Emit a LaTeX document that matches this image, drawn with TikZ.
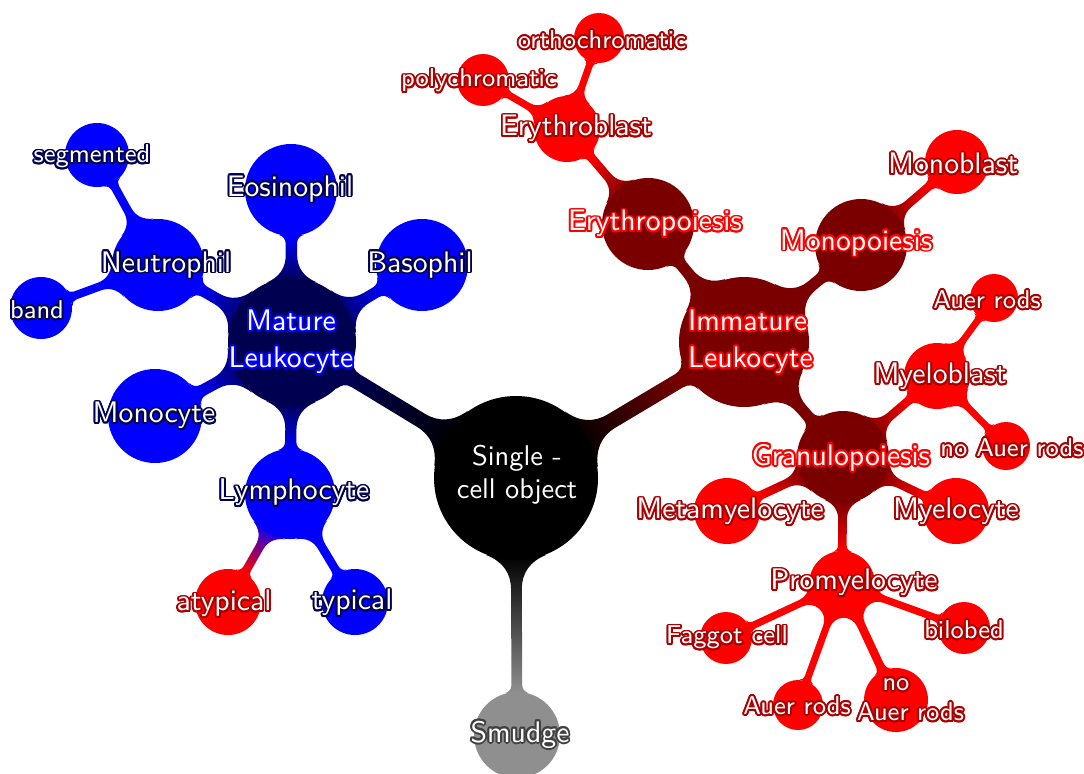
\documentclass[tikz,border=0pt]{standalone}
\usepackage[copies]{contour}
\usetikzlibrary{backgrounds}
\contourlength{0.65pt}
\definecolor{navy}{RGB}{0,0,80}
\definecolor{maroon}{RGB}{122,0,0}
\definecolor{dred}{RGB}{170,0,0}
\definecolor{smudgec}{RGB}{143,143,143}
\definecolor{dgray}{RGB}{64,64,64}
\tikzset{
  cc/.style n args={2}{circle, inner sep=0pt, fill=#1, draw=none, minimum size=#2*0.69pt},
  tx/.style={text=white, align=center, inner sep=0pt, yshift=-0.9pt},
  bigf/.style={tx, font=\sffamily\fontsize{10.25}{12.8}\selectfont},
  smallf/.style={tx, font=\sffamily\fontsize{8.9}{10.5}\selectfont},
  rootf/.style={tx, font=\sffamily\fontsize{9.8}{11.4}\selectfont},
}
\newcommand\ctN[1]{\contour{navy}{#1}}
\newcommand\ctD[1]{\contour{dred}{#1}}
\newcommand\ctR[1]{\contour{red}{#1}}
\newcommand\ctB[1]{\contour{blue}{#1}}
% local point (X along axis, Y across) -> named coordinate
\newcommand\cbset[3]{%
  \pgfmathsetmacro\cbtx{\cbAx+(#2)*\cbux-(#3)*\cbuy}%
  \pgfmathsetmacro\cbty{\cbAy+(#2)*\cbuy+(#3)*\cbux}%
  \coordinate (cb#1) at (\cbtx pt,\cbty pt);}
% connection bar from node #1 to node #2, colours #3 -> #4
\newcommand\cbar[4]{%
  \pgfpointanchor{#1}{center}\pgfgetlastxy\cbAx\cbAy
  \pgfpointanchor{#2}{center}\pgfgetlastxy\cbBx\cbBy
  \pgfpointanchor{#1}{east}\pgfgetlastxy\cbAex\cbAey
  \pgfpointanchor{#2}{east}\pgfgetlastxy\cbBex\cbBey
  \pgfmathsetmacro\cbra{\cbAex-\cbAx}%
  \pgfmathsetmacro\cbrb{\cbBex-\cbBx}%
  \pgfmathsetmacro\cbd{veclen(\cbBx-\cbAx,\cbBy-\cbAy)}%
  \pgfmathsetmacro\cbux{(\cbBx-\cbAx)/\cbd}%
  \pgfmathsetmacro\cbuy{(\cbBy-\cbAy)/\cbd}%
  \pgfmathsetmacro\cbang{90+atan2(\cbuy,\cbux)}%
  \pgfmathsetmacro\cbw{0.105*min(\cbra,\cbrb)+0.28}%
  \pgfmathsetmacro\cbhs{\cbw+0.3*\cbra}%
  \pgfmathsetmacro\cbxs{sqrt(\cbra*\cbra-\cbhs*\cbhs)}%
  \pgfmathsetmacro\cbqs{\cbxs+(\cbhs-\cbw)*\cbhs/\cbxs}%
  \pgfmathsetmacro\cbts{\cbqs+(\cbhs-\cbw)}%
  \pgfmathsetmacro\cbhe{\cbw+0.15*\cbrb}%
  \pgfmathsetmacro\cbxe{\cbd-sqrt(\cbrb*\cbrb-\cbhe*\cbhe)}%
  \pgfmathsetmacro\cbqe{\cbxe-(\cbhe-\cbw)*\cbhe/(\cbd-\cbxe)}%
  \pgfmathsetmacro\cbte{\cbqe-(\cbhe-\cbw)}%
  \cbset{P1}{\cbxs}{\cbhs}%
  \cbset{C1}{\cbxs+2/3*(\cbqs-\cbxs)}{\cbhs+2/3*(\cbw-\cbhs)}%
  \cbset{C2}{\cbts+2/3*(\cbqs-\cbts)}{\cbw}%
  \cbset{E1}{\cbts}{\cbw}%
  \cbset{E2}{\cbte}{\cbw}%
  \cbset{C3}{\cbte+2/3*(\cbqe-\cbte)}{\cbw}%
  \cbset{C4}{\cbxe+2/3*(\cbqe-\cbxe)}{\cbhe+2/3*(\cbw-\cbhe)}%
  \cbset{P2}{\cbxe}{\cbhe}%
  \cbset{P3}{\cbxe}{-\cbhe}%
  \cbset{C5}{\cbxe+2/3*(\cbqe-\cbxe)}{-\cbhe-2/3*(\cbw-\cbhe)}%
  \cbset{C6}{\cbte+2/3*(\cbqe-\cbte)}{-\cbw}%
  \cbset{E3}{\cbte}{-\cbw}%
  \cbset{E4}{\cbts}{-\cbw}%
  \cbset{C7}{\cbts+2/3*(\cbqs-\cbts)}{-\cbw}%
  \cbset{C8}{\cbxs+2/3*(\cbqs-\cbxs)}{-\cbhs-2/3*(\cbw-\cbhs)}%
  \cbset{P4}{\cbxs}{-\cbhs}%
  \shade[left color=#3, right color=#4, shading angle=\cbang]
    (cbP1) .. controls (cbC1) and (cbC2) .. (cbE1) -- (cbE2)
    .. controls (cbC3) and (cbC4) .. (cbP2) -- (cbP3)
    .. controls (cbC5) and (cbC6) .. (cbE3) -- (cbE4)
    .. controls (cbC7) and (cbC8) .. (cbP4) -- cycle;
}
\begin{document}
\begin{tikzpicture}[x=0.345pt, y=-0.345pt]
\useasboundingbox (0,0) rectangle (1084,773);
\clip (0,0) rectangle (1084,773);
% circles
\node[cc={black}{82}] (root) at (516,478) {};
\node[cc={smudgec}{43}] (smudge) at (517,735) {};
\node[cc={navy}{64}] (mat) at (292,342) {};
\node[cc={maroon}{65}] (imm) at (744,342) {};
\node[cc={blue}{46}] (eos) at (291,190) {};
\node[cc={blue}{46}] (bas) at (422,265) {};
\node[cc={blue}{46}] (neu) at (158,265) {};
\node[cc={blue}{47}] (mon) at (155,416) {};
\node[cc={blue}{45}] (lym) at (290,494) {};
\node[cc={blue}{32}] (seg) at (97,155) {};
\node[cc={blue}{31}] (band) at (41,308) {};
\node[cc={red}{33}] (atyp) at (228,602) {};
\node[cc={blue}{33}] (typ) at (355,602) {};
\node[cc={maroon}{46}] (ery) at (648,224) {};
\node[cc={red}{33}] (erybl) at (567,129) {};
\node[cc={red}{26}] (poly) at (483,80) {};
\node[cc={red}{25}] (ortho) at (599,38) {};
\node[cc={maroon}{46}] (monop) at (861,245) {};
\node[cc={red}{32}] (monobl) at (957,162) {};
\node[cc={maroon}{46}] (gran) at (843,457) {};
\node[cc={red}{33}] (myelob) at (937,376) {};
\node[cc={red}{24}] (auer1) at (994,298) {};
\node[cc={red}{24}] (noauer1) at (1006,446) {};
\node[cc={red}{33}] (meta) at (727,511) {};
\node[cc={red}{33}] (myelo) at (956,511) {};
\node[cc={red}{33}] (promy) at (842,584) {};
\node[cc={red}{26}] (faggot) at (726,638) {};
\node[cc={red}{26}] (bilobed) at (964,628) {};
\node[cc={red}{25}] (auer2) at (798,705) {};
\node[cc={red}{32}] (noauer2) at (896,700) {};
% connections
\begin{scope}[on background layer]
\cbar{root}{mat}{black}{navy}
\cbar{root}{imm}{black}{maroon}
\cbar{root}{smudge}{black}{smudgec}
\cbar{mat}{eos}{navy}{blue}
\cbar{mat}{bas}{navy}{blue}
\cbar{mat}{neu}{navy}{blue}
\cbar{mat}{mon}{navy}{blue}
\cbar{mat}{lym}{navy}{blue}
\cbar{neu}{seg}{blue}{blue}
\cbar{neu}{band}{blue}{blue}
\cbar{lym}{atyp}{blue}{red}
\cbar{lym}{typ}{blue}{blue}
\cbar{imm}{ery}{maroon}{maroon}
\cbar{imm}{monop}{maroon}{maroon}
\cbar{imm}{gran}{maroon}{maroon}
\cbar{ery}{erybl}{maroon}{red}
\cbar{erybl}{poly}{red}{red}
\cbar{erybl}{ortho}{red}{red}
\cbar{monop}{monobl}{maroon}{red}
\cbar{gran}{myelob}{maroon}{red}
\cbar{gran}{meta}{maroon}{red}
\cbar{gran}{myelo}{maroon}{red}
\cbar{gran}{promy}{maroon}{red}
\cbar{myelob}{auer1}{red}{red}
\cbar{myelob}{noauer1}{red}{red}
\cbar{promy}{faggot}{red}{red}
\cbar{promy}{bilobed}{red}{red}
\cbar{promy}{auer2}{red}{red}
\cbar{promy}{noauer2}{red}{red}
\end{scope}
% texts
\node[rootf] (troot) at (517,472) {Single -\\cell object};
\node[bigf] (tsmudge) at (520,733) {\contour{dgray}{Smudge}};
\node[bigf] (tmat) at (291,340) {\ctB{Mature}\\\ctB{Leukocyte}};
\node[bigf, text width=112*0.345pt] (timm) at (744,340) {\ctR{Immature}\\\ctR{Leukocyte}};
\node[bigf] (teos) at (290,187) {\ctN{Eosinophil}};
\node[bigf] (tbas) at (420,263) {\ctN{Basophil}};
\node[bigf] (tneu) at (166,263) {\ctN{Neutrophil}};
\node[bigf] (tmon) at (154,414) {\ctN{Monocyte}};
\node[bigf] (tlym) at (294,491) {\ctN{Lymphocyte}};
\node[smallf] (tseg) at (92,155) {\ctN{segmented}};
\node[smallf] (tband) at (37,308) {\ctN{band}};
\node[bigf] (tatyp) at (224,602) {\ctD{atypical}};
\node[bigf] (ttyp) at (352,601) {\ctN{typical}};
\node[bigf] (tery) at (655,222) {\ctR{Erythropoiesis}};
\node[bigf] (terybl) at (576,127) {\ctD{Erythroblast}};
\node[smallf] (tpoly) at (479,79) {\ctD{polychromatic}};
\node[smallf] (tortho) at (602,38) {\ctD{orthochromatic}};
\node[bigf] (tmonop) at (856,241) {\ctR{Monopoiesis}};
\node[bigf] (tmonobl) at (953,162) {\ctD{Monoblast}};
\node[bigf] (tgran) at (841,456) {\ctR{Granulopoiesis}};
\node[bigf] (tmyelob) at (940,375) {\ctD{Myeloblast}};
\node[smallf] (tauer1) at (987,298) {\ctD{Auer rods}};
\node[smallf] (tnoauer1) at (1012,446) {\ctD{no Auer rods}};
\node[bigf] (tmeta) at (730,510) {\ctD{Metamyelocyte}};
\node[bigf] (tmyelo) at (956,510) {\ctD{Myelocyte}};
\node[bigf] (tpromy) at (854,581) {\ctD{Promyelocyte}};
\node[smallf] (tfaggot) at (727,636) {\ctD{Faggot cell}};
\node[smallf] (tbilobed) at (964,628) {\ctD{bilobed}};
\node[smallf] (tauer2) at (797,704) {\ctD{Auer rods}};
\node[smallf, text width=78*0.345pt] (tnoauer2) at (896,698) {\ctD{no}\\\ctD{Auer rods}};
\end{tikzpicture}
\end{document}
